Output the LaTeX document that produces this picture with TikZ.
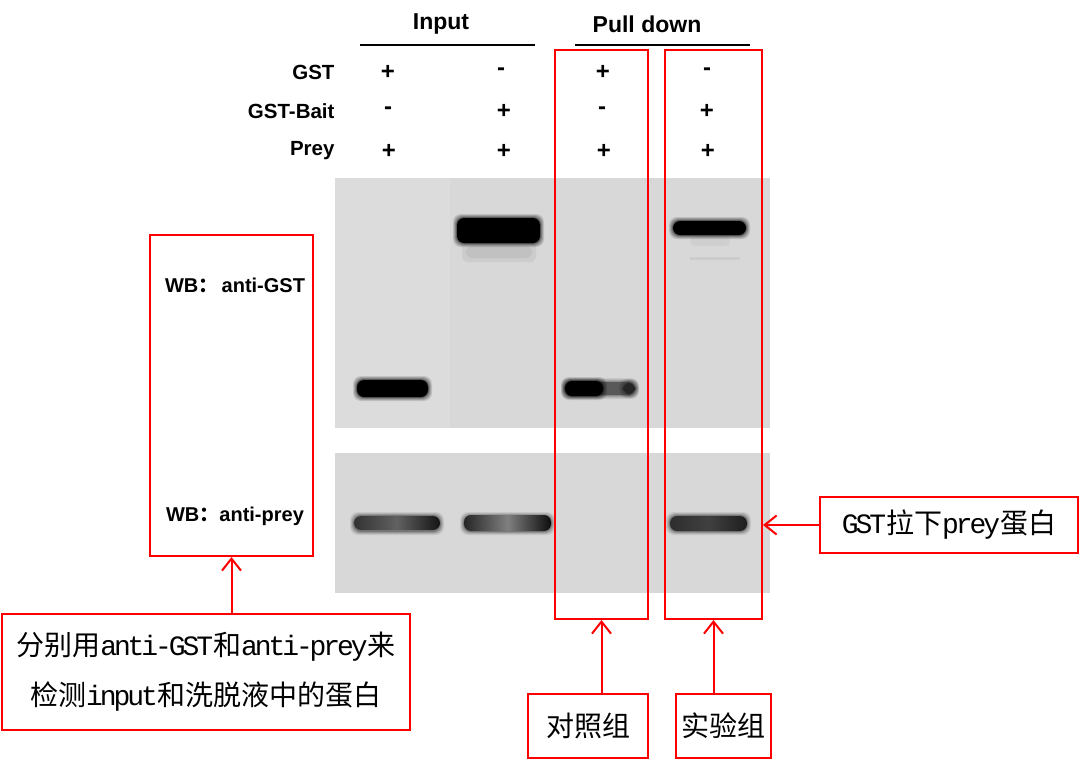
\documentclass[tikz,border=0pt]{standalone}
\usepackage{fontspec}
\setmainfont{Liberation Sans}
\newfontfamily\cjk{Noto Sans CJK SC}
\newfontfamily\lmono[LetterSpace=-11]{Liberation Mono}
\usetikzlibrary{arrows.meta}
\definecolor{blotgray}{RGB}{216,216,216}
\definecolor{blotlight}{RGB}{220,220,220}
\definecolor{mark}{RGB}{255,0,0}
\newcommand\softband[5]{%
  \foreach \d/\o in {4/0.12,3/0.15,2/0.2,1/0.3}{%
    \fill[#5, opacity=\o, rounded corners=8pt] ({#1-\d},{#2-\d}) rectangle ({#3+\d},{#4+\d});}%
  \fill[#5, rounded corners=7pt] (#1,#2) rectangle (#3,#4);}
\begin{document}
\begin{tikzpicture}[x=1pt,y=-1pt,
  redbox/.style={draw=mark, line width=2pt, inner sep=0pt},
  arr/.style={draw=mark, line width=2pt, -{Straight Barb[length=12pt,width=19pt,line width=2pt]}},
  hdr/.style={font=\bfseries\fontsize{23}{26}\selectfont},
  rowlbl/.style={font=\bfseries\fontsize{20.5}{22}\selectfont, anchor=east},
  sign/.style={font=\bfseries\fontsize{24}{26}\selectfont},
  wb/.style={font=\bfseries\fontsize{20}{22}\selectfont},
  note/.style={font=\cjk\fontsize{28}{50}\selectfont, align=center}
]
\useasboundingbox (0,0) rectangle (1080,761);
\fill[white] (0,0) rectangle (1080,761);

% blot panels
\node[fill=blotgray, minimum width=435pt, minimum height=250pt, inner sep=0pt] (blotA) at (552.5,303) {};
\node[fill=blotgray, minimum width=435pt, minimum height=140pt, inner sep=0pt] (blotB) at (552.5,523) {};
\fill[blotlight] (335,178) rectangle (450,428);

% bands panel A
\softband{357}{380}{428}{397}{black}
\fill[black, opacity=0.05, rounded corners=6pt] (462,242) rectangle (536,262);
\fill[black, opacity=0.05, rounded corners=6pt] (466,246) rectangle (532,258);
\softband{457}{218}{540}{243}{black}
\softband{565}{382}{635}{395}{black!65}
\softband{565}{381}{603}{396}{black}
\softband{623}{383}{635}{394}{black!85}
\fill[black, opacity=0.05] (690,257) rectangle (740,260);
\fill[black, opacity=0.04, rounded corners=5pt] (690,236) rectangle (730,246);
\softband{673}{221}{746}{235}{black}

% bands panel B
\foreach \xa/\xb in {354/440, 464/551, 670/747}{
  \foreach \d/\o in {4/0.08,3/0.1,2/0.15,1/0.2}{
    \fill[black, opacity=\o, rounded corners=8pt] ({\xa-\d},{516-\d}) rectangle ({\xb+\d},{531+\d});}
}
\shade[left color=black!80, right color=black!92, middle color=black!62, rounded corners=7pt] (354,516) rectangle (440,530);
\shade[left color=black!85, right color=black!95, middle color=black!50, rounded corners=7pt] (464,515) rectangle (551,531);
\shade[left color=black!82, right color=black!88, middle color=black!75, rounded corners=7pt] (670,516) rectangle (747,531);

% headers
\node[hdr] (inp) at (441,24) {Input};
\node[hdr] (pd) at (647,24) {Pull down};
\draw[line width=1.8pt] (360,45) -- (535,45);
\draw[line width=1.8pt] (575,45) -- (750,45);

% row labels
\node[rowlbl] (rGST) at (338,72) {GST};
\node[rowlbl] (rBait) at (338,111) {GST-Bait};
\node[rowlbl] (rPrey) at (338,151) {Prey};

% signs
\node[sign] (s11) at (388,72) {+};
\node[sign] (s12) at (501,72) {-};
\node[sign] (s13) at (603,72) {+};
\node[sign] (s14) at (707,72) {-};
\node[sign] (s21) at (388,111) {-};
\node[sign] (s22) at (504,111) {+};
\node[sign] (s23) at (602,111) {-};
\node[sign] (s24) at (707,111) {+};
\node[sign] (s31) at (389,151) {+};
\node[sign] (s32) at (504,151) {+};
\node[sign] (s33) at (604,151) {+};
\node[sign] (s34) at (708,151) {+};

% left label box
\node[redbox, minimum width=163pt, minimum height=321pt] (lbox) at (231.5,395.5) {};
\node[wb] (wbA) at (235,285) {WB{\cjk ：}\,anti-GST};
\node[wb] (wbB) at (235,516) {WB{\cjk ：}anti-prey};

% column boxes
\node[redbox, minimum width=93pt, minimum height=569pt] (ctl) at (601.5,334.5) {};
\node[redbox, minimum width=97pt, minimum height=569pt] (exp) at (713.5,334.5) {};

% annotation boxes
\node[redbox, note, minimum width=408pt, minimum height=116pt] (note1) at (206,672)
  {分别用{\lmono anti-GST}和{\lmono anti-prey}来\\检测{\lmono input}和洗脱液中的蛋白};
\node[redbox, note, minimum width=120pt, minimum height=64pt] (cbox) at (588,726) {对照组};
\node[redbox, note, minimum width=95pt, minimum height=64pt] (ebox) at (723.5,726) {实验组};
\node[redbox, note, minimum width=258pt, minimum height=56pt] (gbox) at (949,525) {{\lmono GST}拉下{\lmono prey}蛋白};

% arrows
\draw[arr] (note1.north -| lbox.south) -- (lbox.south);
\draw[arr] (cbox.north -| ctl.south) -- (ctl.south);
\draw[arr] (ebox.north -| exp.south) -- (exp.south);
\draw[arr] (gbox.west) -- (gbox.west -| exp.east);
\end{tikzpicture}
\end{document}
